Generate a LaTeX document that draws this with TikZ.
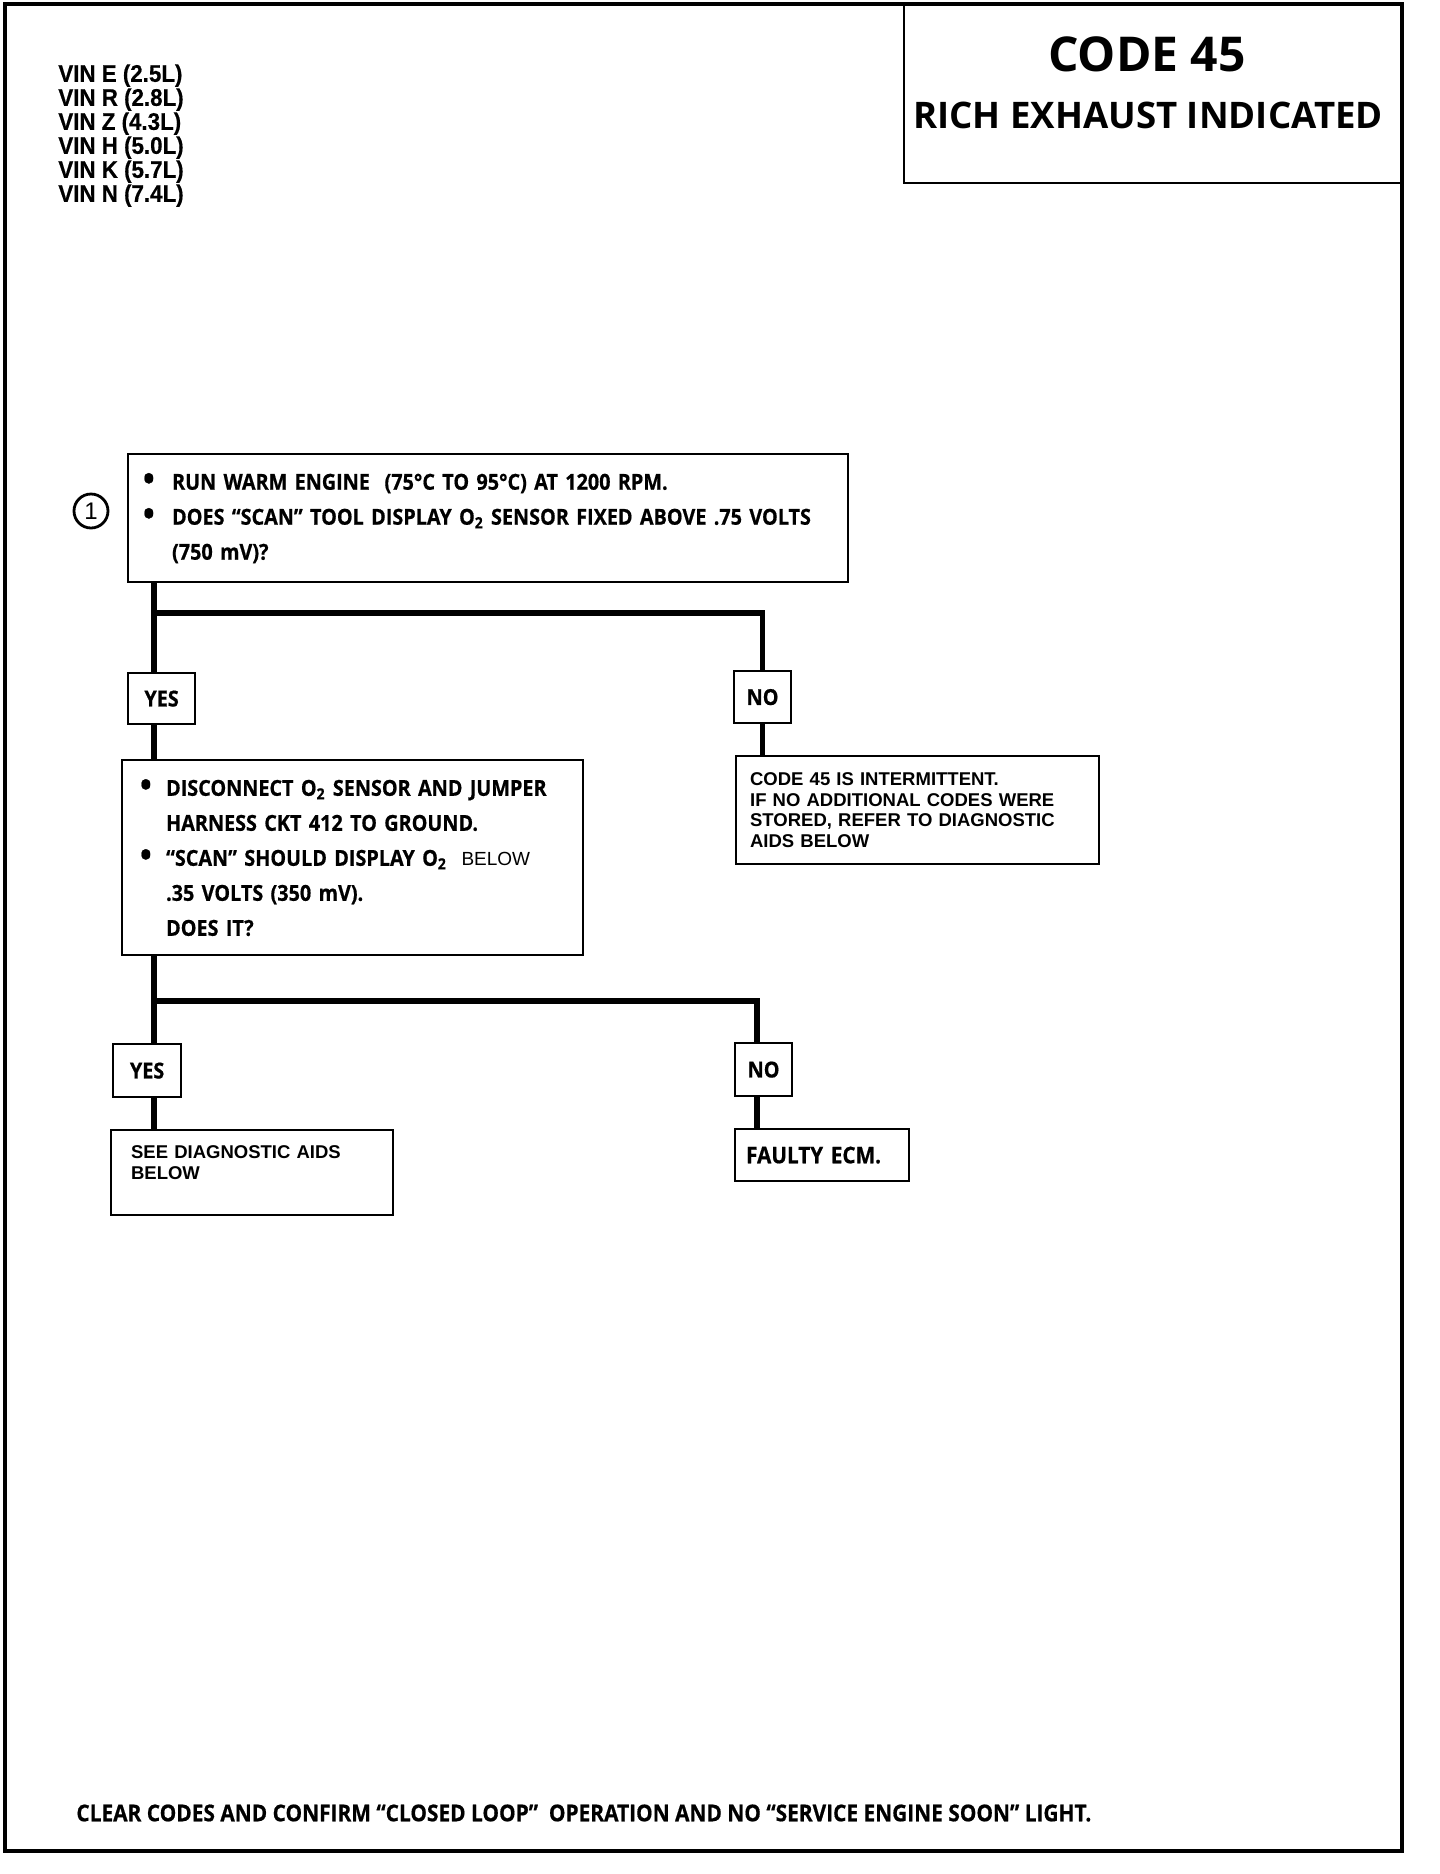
\documentclass[tikz,border=0pt]{standalone}
\usepackage{fontspec}
\setmainfont{Open Sans}
\newfontfamily\hel{Liberation Sans}
\newfontfamily\frut[FakeStretch=0.9,BoldFeatures={FakeBold=0.6}]{Open Sans}
\newfontfamily\vinfont[FakeStretch=0.93,BoldFont={Liberation Sans Bold},BoldFeatures={FakeBold=0.5}]{Liberation Sans}
\usepackage{tikz}

\newcommand{\bul}[1][14.5pt]{\makebox[#1][l]{\raisebox{-0.5pt}{\fontsize{17}{17}\selectfont\textbullet}}}

\begin{document}
\begin{tikzpicture}[x=0.5pt,y=-0.5pt,
    stepbox/.style={draw,line width=1.1pt,anchor=north west,inner ysep=0pt,align=left},
    tag/.style={draw,line width=1.1pt,anchor=north west,inner sep=0pt,
      font=\frut\bfseries\fontsize{11}{12}\selectfont},
    link/.style={line width=2.8pt}]
    \useasboundingbox (0,0) rectangle (1440,1874);
    % Draw frame
    \draw[line width=1.6pt] (5,4) rectangle (1402,1851);

    % Title box
    \node[draw,line width=1.1pt,anchor=north west,minimum width=249.5pt,minimum height=89pt] (title) at (903,4) {};
    \node[font=\bfseries\fontsize{24}{28}\selectfont] (code) at (1147,54) {CODE 45};
    \node[font=\bfseries\fontsize{18.3}{22}\selectfont] (ttl) at (1148,115) {RICH EXHAUST INDICATED};

    % Engines
    \node[anchor=north west,inner sep=0pt,align=left,font=\vinfont\bfseries\fontsize{12}{12}\selectfont] (vin) at (58,64)
      {VIN E (2.5L)\\VIN R (2.8L)\\VIN Z (4.3L)\\VIN H (5.0L)\\VIN K (5.7L)\\VIN N (7.4L)};

    % Steps
    \node[draw,circle,line width=1.4pt,minimum size=17pt,inner sep=0pt,font=\hel\fontsize{12}{12}\selectfont] (one) at (91,511) {1};
    \node[stepbox,minimum width=360pt,minimum height=64pt,inner xsep=7.5pt,text width=345pt,
      font=\frut\bfseries\fontsize{11}{17.5}\selectfont] (q1) at (127,453)
      {\bul RUN WARM ENGINE\ \ (75°C TO 95°C) AT 1200 RPM.\\
       \bul DOES “SCAN” TOOL DISPLAY O\textsubscript{2} SENSOR FIXED ABOVE .75 VOLTS\\
       \hspace*{14.5pt}(750 mV)?};
    \node[tag,minimum width=33.5pt,minimum height=25.5pt] (yes1) at (127,672) {YES};
    \node[tag,minimum width=28.5pt,minimum height=26pt] (no1) at (733,670) {NO};
    \node[stepbox,minimum width=230.5pt,minimum height=97.5pt,inner xsep=9pt,text width=212.5pt,
      font=\frut\bfseries\fontsize{11}{17.5}\selectfont] (q2) at (121,759)
      {\bul[13pt]DISCONNECT O\textsubscript{2} SENSOR AND JUMPER\\
       \hspace*{13pt}HARNESS CKT 412 TO GROUND.\\
       \bul[13pt]“SCAN” SHOULD DISPLAY O\textsubscript{2}\ \ {\hel\mdseries\fontsize{9.5}{10}\selectfont BELOW}\\
       \hspace*{13pt}.35 VOLTS\ (350 mV).\\
       \hspace*{13pt}DOES IT?};
    \node[stepbox,minimum width=181.5pt,minimum height=54pt,inner xsep=7pt,text width=167.5pt,
      font=\hel\bfseries\fontsize{9.25}{10.2}\selectfont] (note) at (735,755)
      {CODE 45 IS INTERMITTENT.\\IF NO ADDITIONAL CODES WERE\\STORED, REFER TO DIAGNOSTIC\\AIDS BELOW};
    \node[tag,minimum width=34pt,minimum height=26.5pt] (yes2) at (112,1043) {YES};
    \node[tag,minimum width=28.5pt,minimum height=26.5pt] (no2) at (734,1042) {NO};
    \node[stepbox,minimum width=141pt,minimum height=42.5pt,inner xsep=10pt,text width=121pt,
      font=\hel\bfseries\fontsize{9.25}{10.5}\selectfont] (aids) at (110,1129)
      {SEE DIAGNOSTIC AIDS\\BELOW\\\mbox{}};
    \node[stepbox,minimum width=87pt,minimum height=26pt,inner xsep=5.5pt,text width=76pt,
      font=\frut\bfseries\fontsize{11.5}{12}\selectfont] (ecm) at (734,1128) {\raisebox{-2pt}{FAULTY ECM.}};

    % Draw links
    \coordinate (t1) at (154,613);
    \coordinate (t2) at (154,1001);
    \coordinate (t2r) at (757,1001);
    \draw[link] (q1.south -| t1) -- (yes1.north -| t1);
    \draw[link] (t1) -| (no1.north);
    \draw[link] (yes1.south -| t1) -- (q2.north -| t1);
    \draw[link] (no1.south) -- (note.north -| no1.south);
    \draw[link] (q2.south -| t2) -- (yes2.north -| t2);
    \draw[link] (t2) -- (t2r) -- (no2.north -| t2r);
    \draw[link] (yes2.south -| t2) -- (aids.north -| t2);
    \draw[link] (no2.south -| t2r) -- (ecm.north -| t2r);

    % Footer
    \node[anchor=west,inner sep=0pt,font=\frut\bfseries\fontsize{11.6}{12}\selectfont] (foot) at (76,1813)
      {CLEAR CODES AND CONFIRM “CLOSED LOOP”\ \ OPERATION AND NO “SERVICE ENGINE SOON” LIGHT.};
\end{tikzpicture}
\end{document}
